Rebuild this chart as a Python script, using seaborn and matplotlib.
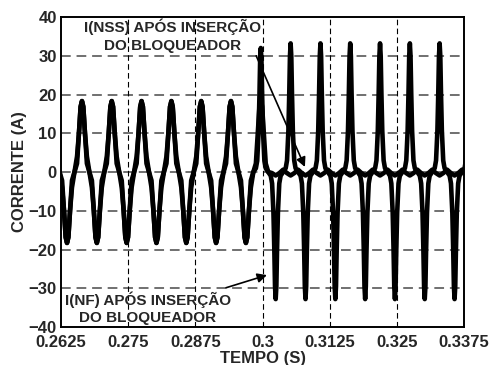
import matplotlib
matplotlib.use("Agg")
import matplotlib.pyplot as plt
import seaborn as sns
import pandas as pd

# pulse centres (s), alternating trough / peak
pulse_t = [0.26362, 0.26640, 0.26917, 0.27194, 0.27472, 0.27749, 0.28026,
           0.28304, 0.28581, 0.28859, 0.29136, 0.29413, 0.29691, 0.29968,
           0.30245, 0.30523, 0.30800, 0.31078, 0.31355, 0.31632, 0.31910,
           0.32187, 0.32464, 0.32742, 0.33019, 0.33296, 0.33574, 0.33852]

# I(NF): pulse amplitudes (A)
nf_amp = [-18.3, 18.3, -18.3, 18.3, -18.3, 18.3, -18.3, 18.3, -18.3, 18.3,
          -18.3, 18.3, -18.3, 32.0, -32.8, 33.2, -32.8, 33.2, -32.8, 33.2,
          -32.8, 33.2, -32.8, 33.2, -32.8, 33.2, -32.8, 33.2]
# I(NSS): same pulses until the blocker is inserted, then a small ripple
nss_amp = [-18.3, 18.3, -18.3, 18.3, -18.3, 18.3, -18.3, 18.3, -18.3, 18.3,
           -18.3, 18.3, -18.3, 18.4]
nss_ripple_centre = -0.9
nss_ripple_mid = 0.6

# pulse shapes (offset as fraction of half period, value relative to amplitude)
narrow_off = [-0.5, -0.33, -0.2, -0.09, 0.0, 0.09, 0.2, 0.33]
narrow_nf = [0.0, 0.22, 0.55, 0.92, 1.0, 0.92, 0.55, 0.22]
narrow_nss = [0.0, 0.12, 0.55, 0.92, 1.0, 0.92, 0.55, 0.12]
wide_off = [-0.5, -0.33, -0.24, -0.15, -0.09, -0.045, 0.0,
            0.045, 0.09, 0.15, 0.24, 0.33]
wide_rel = [0.0, 0.03, 0.09, 0.32, 0.62, 0.9, 1.0, 0.9, 0.62, 0.32, 0.09, 0.03]

xticks = [0.2625, 0.275, 0.2875, 0.3, 0.3125, 0.325, 0.3375]
xtick_labels = ["0.2625", "0.275", "0.2875", "0.3", "0.3125", "0.325", "0.3375"]
yticks = [-40, -30, -20, -10, 0, 10, 20, 30, 40]

h = pulse_t[1] - pulse_t[0]

def build(amps, shape_nss=False):
    xs, ys = [], []
    for t, a in zip(pulse_t, amps):
        if abs(a) > 25:
            off, rel = wide_off, wide_rel
        else:
            off, rel = narrow_off, (narrow_nss if shape_nss else narrow_nf)
        xs += [t + o * h for o in off]
        ys += [a * r for r in rel]
    return xs, ys

x_nf, y_nf = build(nf_amp)
x_nss, y_nss = build(nss_amp, shape_nss=True)
x_nss.append(pulse_t[len(nss_amp) - 1] + 0.5 * h)
y_nss.append(0.0)
for t in pulse_t[len(nss_amp):]:
    x_nss += [t - 0.25 * h, t, t + 0.25 * h, t + 0.5 * h]
    y_nss += [nss_ripple_centre * 0.3, nss_ripple_centre, nss_ripple_centre * 0.3, nss_ripple_mid]

df_nf = pd.DataFrame({"t": x_nf, "i": y_nf})
df_nss = pd.DataFrame({"t": x_nss, "i": y_nss})

sns.set_style("white")
plt.rcParams["font.family"] = ["Liberation Sans", "DejaVu Sans"]
plt.rcParams["font.weight"] = "bold"

fig = plt.figure(figsize=(4.9, 3.65), dpi=100)
ax = fig.add_axes([0.1245, 0.1041, 0.8225, 0.8493])

sns.lineplot(data=df_nss, x="t", y="i", sort=False, estimator=None,
             color="black", linewidth=3.3, ax=ax)
sns.lineplot(data=df_nf, x="t", y="i", sort=False, estimator=None,
             color="black", linewidth=3.3, ax=ax)

ax.set_xlim(0.2625, 0.3375)
ax.set_ylim(-40, 40)
ax.set_xticks(xticks)
ax.set_xticklabels(xtick_labels)
ax.set_yticks(yticks)
ax.tick_params(length=0, labelsize=12)
ax.tick_params(axis="x", pad=6)
ax.tick_params(axis="y", pad=3)
for lab in ax.get_xticklabels() + ax.get_yticklabels():
    lab.set_fontweight("bold")

for y in yticks[1:-1]:
    ax.axhline(y, color="#707070", linestyle=(0, (5, 3)), linewidth=1.4, zorder=0)
for x in xticks[1:-1]:
    ax.axvline(x, color="black", linestyle=(0, (5, 3)), linewidth=0.8, zorder=0)

for s in ax.spines.values():
    s.set_color("black")
    s.set_linewidth(1.4)

ax.set_xlabel("TEMPO (S)", fontsize=12, fontweight="bold", labelpad=0.5)
ax.set_ylabel("CORRENTE (A)", fontsize=12, fontweight="bold", labelpad=1)

ax.annotate("I(NSS) APÓS INSERÇÃO\nDO BLOQUEADOR", xy=(0.30789, 1.3),
            xytext=(0.28333, 35.2), ha="center", va="center",
            fontsize=11, fontweight="bold", linespacing=1.3,
            arrowprops=dict(arrowstyle="-|>", color="black", lw=1.2,
                            shrinkA=0, shrinkB=0, mutation_scale=14,
                            relpos=(0.91, 0.62)))
ax.annotate("I(NF) APÓS INSERÇÃO\nDO BLOQUEADOR", xy=(0.30083, -26.6),
            xytext=(0.27869, -35.1), ha="center", va="center",
            fontsize=11, fontweight="bold", linespacing=1.3,
            arrowprops=dict(arrowstyle="-|>", color="black", lw=1.2,
                            shrinkA=0, shrinkB=0, mutation_scale=14,
                            relpos=(0.97, 1.1)))

fig.savefig("out.png", dpi=100)
